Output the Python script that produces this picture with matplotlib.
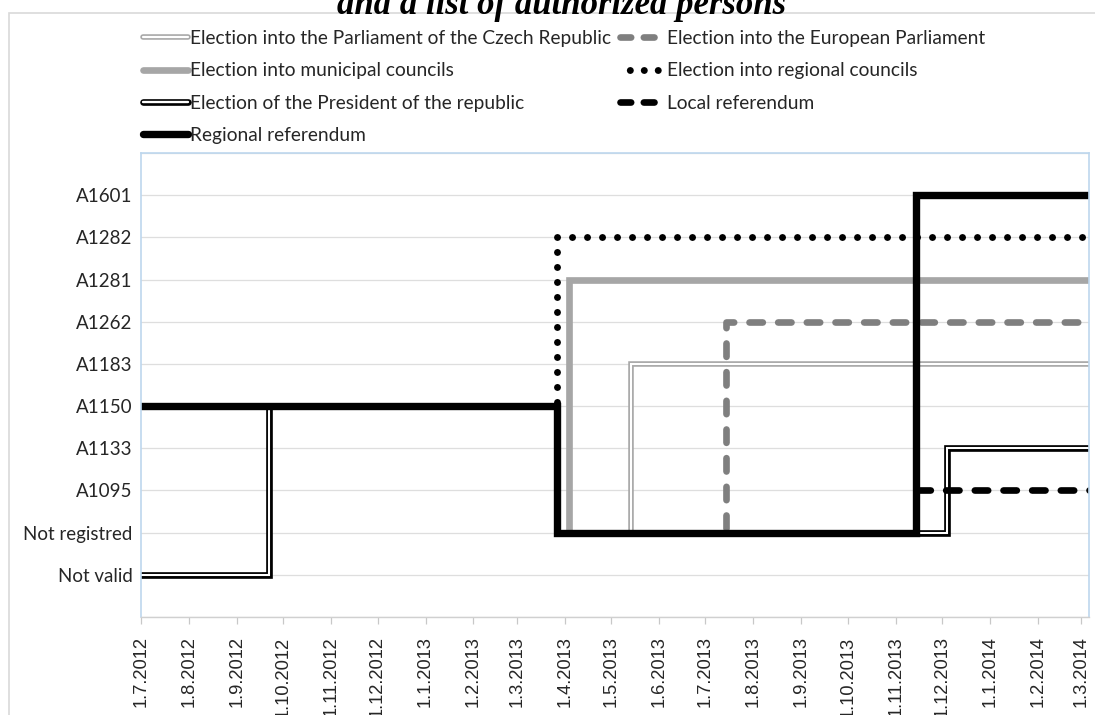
import numpy as np
import matplotlib
matplotlib.use('Agg')
import matplotlib.pyplot as plt
from matplotlib.lines import Line2D
from matplotlib.patches import Rectangle


# categories on the y axis, bottom to top
categories = ['Not valid', 'Not registred', 'A1095', 'A1133', 'A1150',
              'A1183', 'A1262', 'A1281', 'A1282', 'A1601']

tick_labels = ['1.7.2012', '1.8.2012', '1.9.2012', '1.10.2012', '1.11.2012',
               '1.12.2012', '1.1.2013', '1.2.2013', '1.3.2013', '1.4.2013',
               '1.5.2013', '1.6.2013', '1.7.2013', '1.8.2013', '1.9.2013',
               '1.10.2013', '1.11.2013', '1.12.2013', '1.1.2014', '1.2.2014',
               '1.3.2014']

x_start = '2012-07-01'
x_end = '2014-03-06'

# step series: dates where the value changes, and the value from that date on
cz_dates = ['2012-07-01', '2013-03-27', '2013-05-14', '2014-03-06']
cz_levels = ['A1150', 'Not registred', 'A1183', 'A1183']

eu_dates = ['2012-07-01', '2013-03-27', '2013-07-14', '2014-03-06']
eu_levels = ['A1150', 'Not registred', 'A1262', 'A1262']

muni_dates = ['2012-07-01', '2013-03-27', '2013-04-04', '2014-03-06']
muni_levels = ['A1150', 'Not registred', 'A1281', 'A1281']

regc_dates = ['2012-07-01', '2013-03-27', '2014-03-06']
regc_levels = ['A1150', 'A1282', 'A1282']

pres_dates = ['2012-07-01', '2012-09-22', '2013-03-27', '2013-12-04', '2014-03-06']
pres_levels = ['Not valid', 'A1150', 'Not registred', 'A1133', 'A1133']

locref_dates = ['2012-07-01', '2013-03-27', '2013-11-14', '2014-03-06']
locref_levels = ['A1150', 'Not registred', 'A1095', 'A1095']

regref_dates = ['2012-07-01', '2013-03-27', '2013-11-14', '2014-03-06']
regref_levels = ['A1150', 'Not registred', 'A1601', 'A1601']


pos = {c: i + 1 for i, c in enumerate(categories)}


def to_day(s):
    d, m, y = s.split('.')
    return np.datetime64('%s-%02d-%02d' % (y, int(m), int(d)))


def step(ax, dates, levels, **kw):
    x = np.array(dates, dtype='datetime64[D]')
    y = [pos[l] for l in levels]
    return ax.plot(x, y, drawstyle='steps-post', **kw)[0]


W, H = 1095, 715
fig = plt.figure(figsize=(W / 100, H / 100), dpi=100)
ax = fig.add_axes([141 / W, 1 - 617 / H, (1089 - 141) / W, (617 - 153) / H])

lw = 4.8
# Election into the Parliament of the Czech Republic (light double line)
step(ax, cz_dates, cz_levels, color='#a8a8a8', lw=4.0, solid_joinstyle='miter')
step(ax, cz_dates, cz_levels, color='white', lw=1.5, solid_joinstyle='miter')
# European Parliament
step(ax, eu_dates, eu_levels, color='#7f7f7f', lw=lw,
     linestyle=(0, (2.0, 2.3)), dash_capstyle='round', dash_joinstyle='round')
# municipal councils
step(ax, muni_dates, muni_levels, color='#a6a6a6', lw=lw, solid_joinstyle='miter')
# regional councils
step(ax, regc_dates, regc_levels, color='black', lw=5.0,
     linestyle=(0, (0.01, 2.15)), dash_capstyle='round')
# President (double black line)
step(ax, pres_dates, pres_levels, color='black', lw=4.8, solid_joinstyle='miter')
step(ax, pres_dates, pres_levels, color='white', lw=1.5, solid_joinstyle='miter')
# Local referendum
step(ax, locref_dates, locref_levels, color='black', lw=lw,
     linestyle=(0, (2.0, 2.3)), dash_capstyle='round', dash_joinstyle='round')
# Regional referendum
step(ax, regref_dates, regref_levels, color='black', lw=5.3, solid_joinstyle='miter')

ax.set_xlim(np.datetime64(x_start), np.datetime64(x_end))
ax.set_ylim(0, 11)
ax.set_yticks(range(0, 12))
ax.set_yticklabels([''] + categories + [''], fontfamily='Lato', fontsize=13.5,
                   color='#262626')
ax.tick_params(axis='y', length=0, pad=6)
ax.grid(axis='y', color='#dedede', lw=0.9)
ax.set_axisbelow(True)

ax.set_xticks([to_day(t) for t in tick_labels])
ax.set_xticklabels(tick_labels, rotation=90, fontfamily='Liberation Sans',
                   fontsize=13.2, color='#262626')
ax.tick_params(axis='x', length=5, width=0.9, color='#c8c8c8', pad=9)

for side in ['left', 'right', 'top']:
    ax.spines[side].set_color('#bdd7ee')
    ax.spines[side].set_linewidth(1.2)
ax.spines['bottom'].set_color('#d0d0d0')
ax.spines['bottom'].set_linewidth(1)

# outer chart frame
fig.add_artist(Rectangle((9 / W, -0.05), 1.2, 1 - 13 / H + 0.05,
                         transform=fig.transFigure, fill=False,
                         edgecolor='#d9d9d9', lw=1.2))

fig.text(562 / W, 1 - 14 / H, 'and a list of authorized persons',
         ha='center', va='baseline', fontfamily='Liberation Serif',
         fontweight='bold', fontstyle='italic', fontsize=25)


# legend handles
def dbl(outer, inner, ow, iw):
    return (Line2D([], [], color=outer, lw=ow, solid_capstyle='round'),
            Line2D([], [], color=inner, lw=iw, solid_capstyle='round'))


h_cz = dbl('#a8a8a8', 'white', 4.0, 1.6)
h_muni = Line2D([], [], color='#a6a6a6', lw=lw, solid_capstyle='round')
h_pres = dbl('black', 'white', 4.8, 1.7)
h_regref = Line2D([], [], color='black', lw=5.3, solid_capstyle='round')
h_eu = Line2D([], [], color='#7f7f7f', lw=lw, linestyle=(0, (1.6, 1.9)),
              dash_capstyle='round')
h_regc = Line2D([], [], color='black', lw=5.0, linestyle=(0.6, (0.01, 2.0)),
                dash_capstyle='round')
h_locref = Line2D([], [], color='black', lw=lw, linestyle=(0, (1.6, 1.9)),
                  dash_capstyle='round')

leg_kw = dict(loc='upper left', frameon=False, borderpad=0, borderaxespad=0,
              handlelength=2.35, handletextpad=0.1, labelspacing=0.8,
              prop={'family': 'Lato', 'size': 13.8}, labelcolor='#262626')

leg1 = fig.legend([h_cz, h_muni, h_pres, h_regref],
                  ['Election into the Parliament of the Czech Republic',
                   'Election into municipal councils',
                   'Election of the President of the republic',
                   'Regional referendum'],
                  bbox_to_anchor=(143 / W, 1 - 30 / H), **leg_kw)
leg2 = fig.legend([h_eu, h_regc, h_locref],
                  ['Election into the European Parliament',
                   'Election into regional councils',
                   'Local referendum'],
                  bbox_to_anchor=(620 / W, 1 - 30 / H), **leg_kw)

fig.savefig('out.png', dpi=100)
